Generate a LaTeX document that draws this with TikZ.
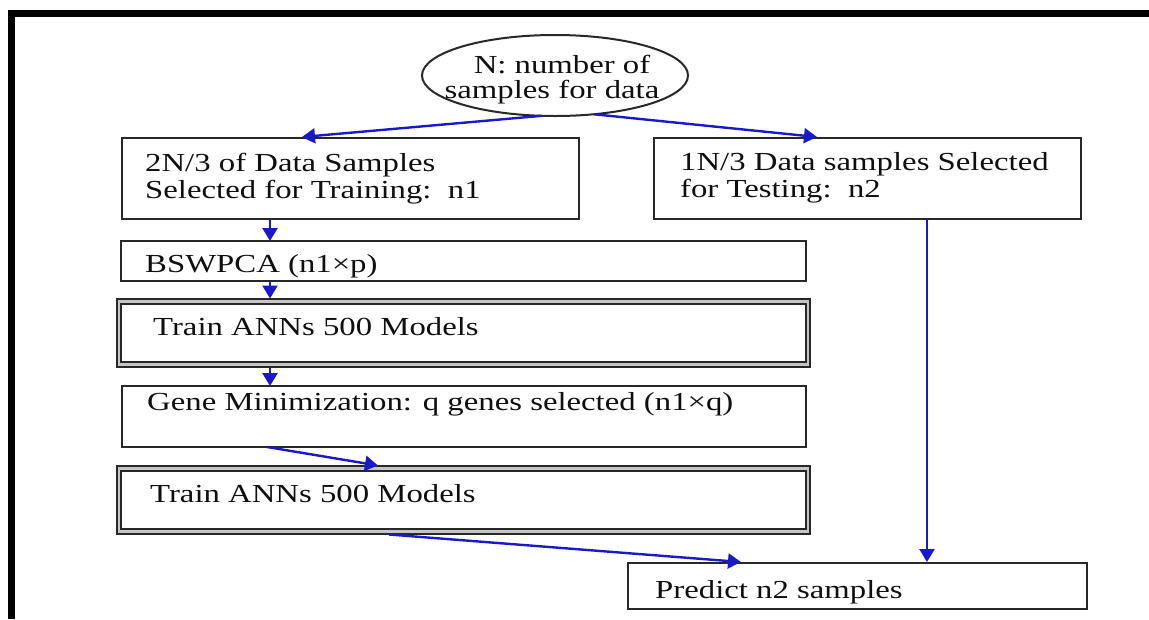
\documentclass[tikz,border=0pt]{standalone}
\usepackage{fontspec}
\setmainfont{Liberation Serif}[FakeStretch=1.26]
\usetikzlibrary{arrows.meta,shapes.geometric,calc}
\definecolor{arrblue}{RGB}{25,25,200}
\definecolor{boxline}{RGB}{40,40,40}
\definecolor{txtcol}{RGB}{15,15,15}
\begin{document}
\begin{tikzpicture}[x=1pt,y=-1pt,
  box/.style={draw=boxline, line width=2pt, rectangle, inner sep=0pt, outer sep=0pt},
  dbox/.style={draw=boxline, line width=2.2pt, double=gray!45, double distance=2.5pt, rectangle, inner sep=0pt, outer sep=0pt},
  oval/.style={draw=boxline, line width=2pt, ellipse, inner sep=0pt, outer sep=0pt},
  lbl/.style={inner sep=0pt, text=txtcol, font=\fontsize{26}{28}\selectfont, anchor=base west},
  clbl/.style={lbl, anchor=base},
  arr/.style={draw=arrblue, line width=2.4pt, -{Triangle[width=15pt,length=13pt]}},
]
\useasboundingbox (0,0) rectangle (1149,619);
\fill[black] (8,10) rectangle (1149,16.5);
\fill[black] (8,10) rectangle (15,619);

\node[oval, minimum width=266pt, minimum height=81pt] (ell) at (555,75.5) {};
\node[clbl] (ell1) at (562,73) {N: number of};
\node[clbl] (ell2) at (552,98) {samples for data};

\node[box, minimum width=457pt, minimum height=81pt] (b1) at (350.5,178.5) {};
\node[lbl] (b1a) at (145,171) {2N/3 of Data Samples};
\node[lbl] (b1b) at (145,198) {Selected for Training:\ \ n1};

\node[box, minimum width=427pt, minimum height=81pt] (b2) at (867.5,178.5) {};
\node[lbl] (b2a) at (680,170) {1N/3 Data samples Selected};
\node[lbl] (b2b) at (680,197) {for Testing:\ \ n2};

\node[box, minimum width=685pt, minimum height=40pt] (bs) at (463.5,261) {};
\node[lbl] (bst) at (145,272) {BSWPCA (n1×p)};

\node[dbox, minimum width=689pt, minimum height=63pt] (t1) at (463.5,333) {};
\node[lbl] (t1t) at (153,335) {Train ANNs 500 Models};

\node[box, minimum width=684pt, minimum height=61pt] (gm) at (464,416.5) {};
\node[lbl] (gmt) at (147,410) {Gene Minimization: q genes selected (n1×q)};

\node[dbox, minimum width=689pt, minimum height=63pt] (t2) at (463.5,500) {};
\node[lbl] (t2t) at (150,502) {Train ANNs 500 Models};

\node[box, minimum width=459pt, minimum height=46pt] (pr) at (857.5,586) {};
\node[lbl] (prt) at (655,598) {Predict n2 samples};

\coordinate (cx) at (270,0);
\draw[arr] (ell.252) -- ($(b1.north)+(-48.5,-1)$);
\draw[arr] (ell.315) -- ($(b2.north)+(-50.5,-1)$);
\draw[arr] (b1.south -| cx) -- (bs.north -| cx);
\draw[arr] (bs.south -| cx) -- ($(t1.north -| cx)+(0,-3)$);
\draw[arr] ($(t1.south -| cx)+(0,3)$) -- (gm.north -| cx);
\draw[arr] ($(gm.south)+(-197,0)$) -- ($(t2.north)+(-85.5,-3)$);
\draw[arr] ($(t2.south)+(-74.5,3)$) -- ($(pr.north)+(-116.5,-1)$);
\draw[arr] ($(b2.south)+(59.5,0)$) -- ($(pr.north)+(69.5,-1)$);
\end{tikzpicture}
\end{document}
